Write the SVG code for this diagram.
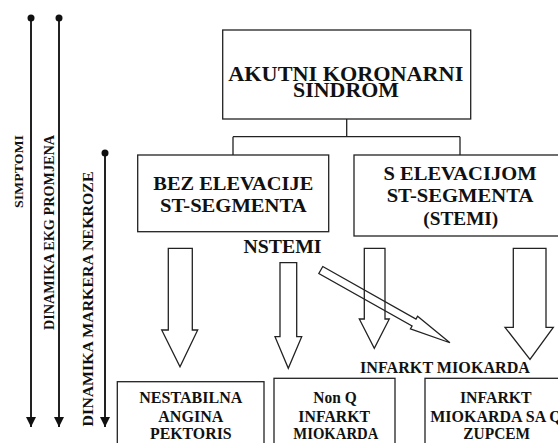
<svg xmlns="http://www.w3.org/2000/svg" width="558" height="443" viewBox="0 0 558 443">
<style>
.box{fill:#fff;stroke:#222;stroke-width:1.3}
.ar{fill:none;stroke:#222;stroke-width:1.3;stroke-linejoin:miter}
.ax{stroke:#222;stroke-width:2;fill:none}
.conn{stroke:#222;stroke-width:1.3;fill:none}
</style>
<defs>
<marker id="ah" viewBox="0 0 10 10" refX="10" refY="5" markerWidth="5" markerHeight="5" markerUnits="strokeWidth" orient="auto">
<path d="M0,0 L10,5 L0,10 z" fill="#111"/>
</marker>
</defs>
<g id="axes" font-family="Liberation Serif" font-weight="bold" fill="#111" text-anchor="middle">
<g id="axis-simptomi">
<line class="ax" x1="31" y1="18" x2="31" y2="427" marker-end="url(#ah)"/>
<circle cx="31" cy="18" r="3.5" fill="#111"/>
<text font-size="13.5" textLength="73" lengthAdjust="spacingAndGlyphs" transform="translate(23,171.5) rotate(-90)">SIMPTOMI</text>
</g>
<g id="axis-ekg">
<line class="ax" x1="59" y1="18" x2="59" y2="427" marker-end="url(#ah)"/>
<circle cx="59" cy="18" r="3.5" fill="#111"/>
<text font-size="14" textLength="195" lengthAdjust="spacingAndGlyphs" transform="translate(53.5,232.5) rotate(-90)">DINAMIKA EKG PROMJENA</text>
</g>
<g id="axis-markeri">
<line class="ax" x1="105" y1="153" x2="105" y2="427" marker-end="url(#ah)"/>
<circle cx="105" cy="153" r="3.5" fill="#111"/>
<text font-size="15.5" textLength="255" lengthAdjust="spacingAndGlyphs" transform="translate(93,299) rotate(-90)">DINAMIKA MARKERA NEKROZE</text>
</g>
</g>
<g id="connectors">
<path class="conn" d="M346.7,119 V136.7 M233,136.7 H460 M233,136.7 V155 M460,136.7 V155"/>
<polygon class="ar" points="168.3,248.3 192.3,248.3 192.3,330 197.7,330 180,366.7 161.7,330 168.3,330"/>
<polygon class="ar" points="280,262.7 296.7,262.7 296.7,336.7 301.7,336.7 288.3,368.3 275,336.7 280,336.7"/>
<polygon class="ar" points="364.3,248.3 385,248.3 385,319 389.3,319 374.3,348.3 359.3,319 364.3,319"/>
<polygon class="ar" points="513.3,248.3 546,248.3 546,327.3 553.3,327.3 530,359.3 505,327.3 513.3,327.3"/>
<polygon class="ar" transform="translate(320.8,270) rotate(29.4)" points="0,-4 107,-4 107,-7.3 148.2,0 107,7.3 107,4 0,4"/>
</g>
<g id="nodes" font-family="Liberation Serif" font-weight="bold" fill="#111" text-anchor="middle">
<g id="n-akutni">
<rect class="box" x="222.7" y="30" width="248" height="89"/>
<text font-size="21" x="345.8" y="80.5" textLength="235" lengthAdjust="spacingAndGlyphs">AKUTNI KORONARNI</text>
<text font-size="21" x="346" y="97" textLength="106" lengthAdjust="spacingAndGlyphs">SINDROM</text>
</g>
<g id="n-bez">
<rect class="box" x="137.7" y="155" width="191" height="76.7"/>
<text font-size="19" x="233.3" y="190" textLength="160" lengthAdjust="spacingAndGlyphs">BEZ ELEVACIJE</text>
<text font-size="19" x="233.3" y="211.7" textLength="146.7" lengthAdjust="spacingAndGlyphs">ST-SEGMENTA</text>
</g>
<g id="n-s">
<rect class="box" x="354" y="155" width="220" height="81"/>
<text font-size="19" x="460" y="180" textLength="153" lengthAdjust="spacingAndGlyphs">S ELEVACIJOM</text>
<text font-size="19" x="460" y="201.7" textLength="146.7" lengthAdjust="spacingAndGlyphs">ST-SEGMENTA</text>
<text font-size="19" x="460.8" y="225" textLength="75" lengthAdjust="spacingAndGlyphs">(STEMI)</text>
</g>
<g id="l-nstemi">
<text font-size="19" x="282.5" y="253" textLength="78" lengthAdjust="spacingAndGlyphs">NSTEMI</text>
</g>
<g id="l-infarkt">
<text font-size="16" x="445" y="372.7" textLength="170" lengthAdjust="spacingAndGlyphs">INFARKT MIOKARDA</text>
</g>
<g id="n-nestabilna">
<rect class="box" x="117.3" y="381.7" width="146.7" height="80"/>
<text font-size="16" x="190.8" y="403.3" textLength="103" lengthAdjust="spacingAndGlyphs">NESTABILNA</text>
<text font-size="16" x="190.8" y="421.7" textLength="65" lengthAdjust="spacingAndGlyphs">ANGINA</text>
<text font-size="16" x="190.8" y="439" textLength="81.7" lengthAdjust="spacingAndGlyphs">PEKTORIS</text>
</g>
<g id="n-nonq">
<rect class="box" x="274" y="378.3" width="121" height="80"/>
<text font-size="16" x="335" y="403.3" textLength="43.3" lengthAdjust="spacingAndGlyphs">Non Q</text>
<text font-size="16" x="334.2" y="421.7" textLength="71.7" lengthAdjust="spacingAndGlyphs">INFARKT</text>
<text font-size="16" x="335.8" y="439" textLength="85" lengthAdjust="spacingAndGlyphs">MIOKARDA</text>
</g>
<g id="n-q">
<rect class="box" x="425" y="378.3" width="150" height="80"/>
<text font-size="16" x="495.8" y="403.3" textLength="71.7" lengthAdjust="spacingAndGlyphs">INFARKT</text>
<text font-size="16" x="496" y="421.7">MIOKARDA SA Q</text>
<text font-size="16" x="496.7" y="439" textLength="66.7" lengthAdjust="spacingAndGlyphs">ZUPCEM</text>
</g>
</g>
</svg>
